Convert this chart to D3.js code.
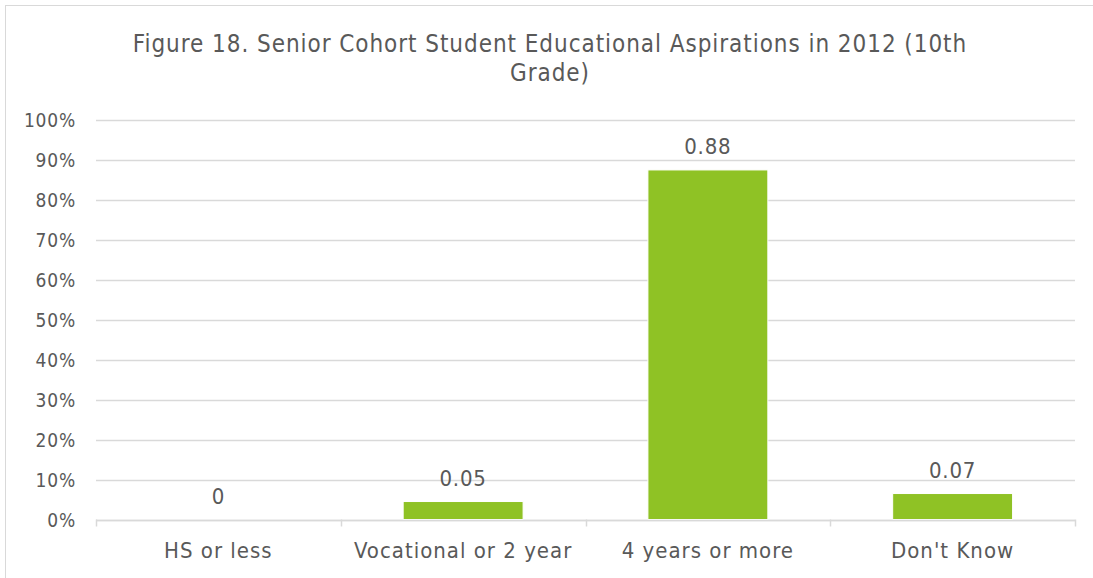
<!DOCTYPE html>
<html>
<head>
<meta charset="utf-8">
<script src="https://cdn.jsdelivr.net/npm/d3@7"></script>
<style>
  body { margin: 0; background: #fff; }
  text { font-family: "DejaVu Sans Condensed", "Liberation Sans", sans-serif; fill: #595959; }
</style>
</head>
<body>
<svg id="chart" width="1093" height="578"></svg>
<script>
const categories = ["HS or less", "Vocational or 2 year", "4 years or more", "Don't Know"];
const values = [0, 0.045, 0.875, 0.065];
const valueLabels = ["0", "0.05", "0.88", "0.07"];
const yTicks = [0, 0.1, 0.2, 0.3, 0.4, 0.5, 0.6, 0.7, 0.8, 0.9, 1.0];
const titleLines = ["Figure 18. Senior Cohort Student Educational Aspirations in 2012 (10th", "Grade)"];

const svg = d3.select("#chart");

svg.append("rect")
    .attr("x", 5.5).attr("y", 5.5)
    .attr("width", 1200).attr("height", 700)
    .attr("fill", "none")
    .attr("stroke", "#d9d9d9");

const margin = {left: 96, right: 1075, top: 120, bottom: 519.5};

const x = d3.scaleBand()
    .domain(categories)
    .range([margin.left, margin.right])
    .paddingInner(0.51)
    .paddingOuter(0.255);

const y = d3.scaleLinear()
    .domain([0, 1])
    .range([margin.bottom, margin.top]);

// gridlines
svg.append("g")
    .selectAll("line")
    .data(yTicks)
    .enter()
    .append("line")
    .attr("x1", margin.left)
    .attr("x2", margin.right)
    .attr("y1", d => Math.round(y(d)) + 0.5)
    .attr("y2", d => Math.round(y(d)) + 0.5)
    .attr("stroke", "#d9d9d9")
    .attr("stroke-width", 1.5);

// y labels
svg.append("g")
    .selectAll("text")
    .data(yTicks)
    .enter()
    .append("text")
    .attr("x", 76)
    .attr("y", d => y(d))
    .attr("text-anchor", "end")
    .attr("dominant-baseline", "central")
    .attr("font-size", 19)
    .attr("letter-spacing", 0.8)
    .text(d => d3.format(".0%")(d));

// bars
svg.append("g")
    .selectAll("rect")
    .data(values)
    .enter()
    .append("rect")
    .attr("x", (d, i) => x(categories[i]))
    .attr("y", d => y(d))
    .attr("width", x.bandwidth())
    .attr("height", d => y(0) - y(d))
    .attr("fill", "#8fc225")
    .attr("stroke", "#fff")
    .attr("stroke-width", 1);

// x axis line and ticks
const xAxis = svg.append("g");
xAxis.append("line")
    .attr("x1", margin.left).attr("x2", margin.right)
    .attr("y1", Math.round(y(0)) + 0.5).attr("y2", Math.round(y(0)) + 0.5)
    .attr("stroke", "#d9d9d9").attr("stroke-width", 1.5);

const bounds = categories.map(c => x(c) - x.step() * x.paddingInner() / 2).concat([margin.right]);
xAxis.selectAll(".tick")
    .data(bounds)
    .enter()
    .append("line")
    .attr("class", "tick")
    .attr("x1", d => Math.round(d) + 0.5)
    .attr("x2", d => Math.round(d) + 0.5)
    .attr("y1", y(0))
    .attr("y2", y(0) + 7)
    .attr("stroke", "#d9d9d9")
    .attr("stroke-width", 1.5);

xAxis.selectAll("text")
    .data(categories)
    .enter()
    .append("text")
    .attr("x", d => x(d) + x.bandwidth() / 2)
    .attr("y", 550)
    .attr("text-anchor", "middle")
    .attr("dominant-baseline", "central")
    .attr("font-size", 22)
    .attr("letter-spacing", 1)
    .text(d => d);

// value labels
svg.append("g")
    .selectAll("text")
    .data(values)
    .enter()
    .append("text")
    .attr("x", (d, i) => x(categories[i]) + x.bandwidth() / 2)
    .attr("y", d => y(d) - 23)
    .attr("text-anchor", "middle")
    .attr("dominant-baseline", "central")
    .attr("font-size", 22)
    .attr("letter-spacing", 0.8)
    .text((d, i) => valueLabels[i]);

// title
svg.append("g")
    .selectAll("text")
    .data(titleLines)
    .enter()
    .append("text")
    .attr("x", 550)
    .attr("y", (d, i) => 44 + i * 29)
    .attr("text-anchor", "middle")
    .attr("dominant-baseline", "central")
    .attr("font-size", 24)
    .attr("letter-spacing", 0.95)
    .text(d => d);
</script>
</body>
</html>
